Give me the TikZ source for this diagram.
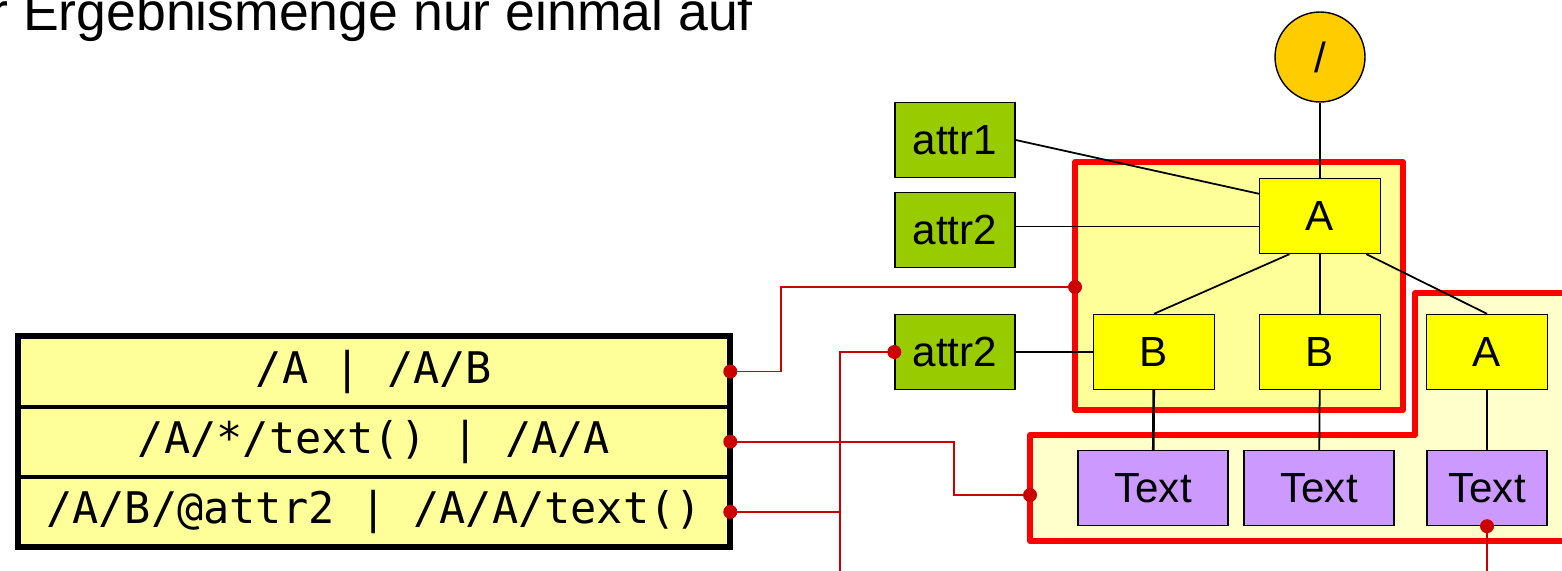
\documentclass[tikz,border=0pt]{standalone}
\usepackage{fontspec}
\usepackage{tikz}
\usetikzlibrary{calc}
\usetikzlibrary{positioning}
\setmainfont{Liberation Sans}
\newfontfamily\monofont{DejaVu Sans Mono}

\definecolor{regionA}{HTML}{FFFF99}
\definecolor{regionB}{HTML}{FFFFCC}
\definecolor{elemcol}{HTML}{FFFF00}
\definecolor{attrcol}{HTML}{99CC00}
\definecolor{textcol}{HTML}{CC99FF}
\definecolor{rootcol}{HTML}{FFCC00}
\definecolor{wirecol}{HTML}{CC0000}

\tikzset{
	box/.style={draw=black, line width=0.8pt, font=\fontsize{24}{28}\selectfont, inner sep=0pt},
	elembox/.style={box, fill=elemcol, minimum width=2.42cm, minimum height=1.5cm},
	attrbox/.style={box, fill=attrcol, minimum width=2.4cm, minimum height=1.5cm},
	textbox/.style={box, fill=textcol, minimum width=3cm, minimum height=1.5cm},
	rootbox/.style={box, circle, fill=rootcol, minimum size=1.8cm},
	region/.style={draw=red, line width=3pt, line join=round},
	wire/.style={draw=wirecol, line width=1pt},
	dot/.style={circle, fill=wirecol, inner sep=0pt, minimum size=0.28cm},
	rowbox/.style={fill=regionA, minimum width=14.24cm, minimum height=1.39cm, inner sep=0pt,
		font=\monofont\fontsize{24.8}{28}\selectfont}
}

\begin{document}
\begin{tikzpicture}[x=0.02cm, y=-0.02cm]
	\clip (0,0) rectangle (1562,571);

	% heading, cut off at the border
	\node[anchor=base west, inner sep=0pt, font=\fontsize{30.5}{34}\selectfont] (title) at (-10,31)
		{r Ergebnismenge nur einmal auf};

	% result regions
	\path[region, fill=regionA] (1075,162) rectangle (1403,410);
	\path[region, fill=regionB] (1030,435) -- (1415,435) -- (1415,293) -- (1580,293)
		-- (1580,541) -- (1030,541) -- cycle;

	% tree
	\node[rootbox] (root) at (1320,57) {/};
	\node[attrbox] (at1) at (955,140) {attr1};
	\node[attrbox] (at2) at (955,230) {attr2};
	\node[attrbox] (at3) at (955,352) {attr2};
	\node[elembox] (A) at (1320,216) {A};
	\node[elembox] (B1) at (1154,352) {B};
	\node[elembox] (B2) at (1320,352) {B};
	\node[elembox] (A2) at (1487,352) {A};
	\node[textbox] (t1) at (1153,488) {Text};
	\node[textbox] (t2) at (1319,488) {Text};
	\node[textbox, minimum width=2.4cm] (t3) at (1487,488) {Text};

	\begin{scope}[line width=1pt]
		\draw (root) -- (A);
		\draw (at1.east) -- (A.160);
		\draw ([yshift=-6pt]A.west) -- ([yshift=-6pt]A.west -| at2.east);
		\draw ($(A.south west)!0.25!(A.south east)$) -- (B1.north);
		\draw (A.south) -- (B2.north);
		\draw ($(A.south west)!0.88!(A.south east)$) -- (A2.north);
		\draw (B2) -- (t2);
		\draw (A2) -- (t3);
	\end{scope}
	\begin{scope}[line width=1.5pt]
		\draw (at3.east) -- (B1.west);
		\draw (B1) -- (t1);
	\end{scope}

	% query table
	\node[rowbox] (r1) at (374,371.5) {/A | /A/B};
	\node[rowbox, below=0pt of r1] (r2) {/A/*/text() | /A/A};
	\node[rowbox, below=0pt of r2] (r3) {/A/B/@attr2 | /A/A/text()};
	\draw[line width=2.2pt] (r1.south west) -- (r1.south east);
	\draw[line width=2.2pt] (r2.south west) -- (r2.south east);
	\draw[line width=3.4pt] (r1.north west) rectangle (r3.south east);

	% links from the queries to their results
	\coordinate (hitA) at (1075,287);
	\coordinate (hitB) at (1030,495);
	\coordinate (down1) at (840,571);
	\coordinate (down2) at (1487,571);
	\draw[wire] (r1.east) -- ++(51,0) |- (hitA);
	\draw[wire] (r2.east) -- ++(224,0) |- (hitB);
	\draw[wire] (r3.east) -- ++(109,0);
	\draw[wire] (down1) |- (at3.west);
	\draw[wire] (t3.south) -- (down2);

	\node[dot] at (r1.east) {};
	\node[dot] at (r2.east) {};
	\node[dot] at (r3.east) {};
	\node[dot] at (hitA) {};
	\node[dot] at (hitB) {};
	\node[dot] at (at3.west) {};
	\node[dot] at (t3.south) {};
\end{tikzpicture}
\end{document}
